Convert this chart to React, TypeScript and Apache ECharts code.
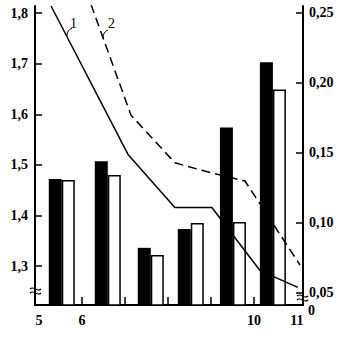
import React, { useEffect, useRef } from "react";
import * as echarts from "echarts";

// Bar pairs (left axis)
const barX = [5.53, 6.6, 7.6, 8.53, 9.51, 10.44];
const blackBars = [1.472, 1.507, 1.336, 1.373, 1.574, 1.703];
const whiteBars = [1.47, 1.48, 1.322, 1.385, 1.387, 1.649];

// Curves (right axis)
const line1X = [5.28, 7.07, 8.16, 9.02, 10.14, 11.02];
const line1Y = [0.255, 0.149, 0.111, 0.111, 0.066, 0.054];
const line2X = [6.21, 7.14, 8.16, 8.98, 9.79, 11.07];
const line2Y = [0.256, 0.177, 0.143, 0.136, 0.13, 0.07];

// Ticks / labels
const leftTicks = [1.3, 1.4, 1.5, 1.6, 1.7, 1.8];
const rightTicks = [0.05, 0.1, 0.15, 0.2, 0.25];
const xLabelValues = [5, 6, 10, 11];
const xTickValues = [6, 7, 8, 9, 10];

const FONT = "Liberation Serif";

export default function App() {
  const ref = useRef<HTMLDivElement>(null);
  useEffect(() => {
    if (!ref.current) return;
    const chart = echarts.init(ref.current, undefined, { renderer: "svg" });
    const axisText = { color: "#000", fontFamily: FONT, fontSize: 14, fontWeight: "bold" as const };
    chart.setOption({
      animation: false,
      backgroundColor: "#fff",
      grid: { left: 35, right: 53, top: 6, bottom: 46, containLabel: false },
      xAxis: {
        type: "value",
        min: 4.907,
        max: 11.14,
        splitLine: { show: false },
        axisLine: { show: true, onZero: false, lineStyle: { color: "#000", width: 2 } },
        axisTick: { show: true, inside: true, length: 8, customValues: xTickValues, lineStyle: { color: "#000", width: 1.5 } },
        axisLabel: { ...axisText, margin: 8, customValues: xLabelValues, formatter: (v: number) => String(v) },
      },
      yAxis: [
        {
          type: "value",
          position: "left",
          min: 1.223,
          max: 1.814,
          splitLine: { show: false },
          axisLine: { show: true, onZero: false, lineStyle: { color: "#000", width: 2 } },
          axisTick: { show: true, inside: true, length: 7, customValues: leftTicks, lineStyle: { color: "#000", width: 1.5 } },
          axisLabel: {
            ...axisText,
            margin: 7,
            customValues: leftTicks,
            formatter: (v: number) => v.toFixed(1).replace(".", ","),
          },
        },
        {
          type: "value",
          position: "right",
          min: 0.0414,
          max: 0.255,
          splitLine: { show: false },
          axisLine: { show: true, onZero: false, lineStyle: { color: "#000", width: 2 } },
          axisTick: { show: true, inside: true, length: 7, customValues: rightTicks, lineStyle: { color: "#000", width: 1.5 } },
          axisLabel: {
            ...axisText,
            margin: 6,
            customValues: rightTicks,
            formatter: (v: number) => v.toFixed(2).replace(".", ","),
          },
        },
      ],
      series: [
        {
          type: "bar",
          yAxisIndex: 0,
          barWidth: 13,
          barGap: "0%",
          data: barX.map((x, i) => [x, blackBars[i]]),
          itemStyle: { color: "#000" },
        },
        {
          type: "bar",
          yAxisIndex: 0,
          barWidth: 13,
          barGap: "0%",
          data: barX.map((x, i) => [x, whiteBars[i]]),
          itemStyle: { color: "#fff", borderColor: "#000", borderWidth: 1.5 },
        },
        {
          type: "line",
          yAxisIndex: 1,
          symbol: "none",
          data: line1X.map((x, i) => [x, line1Y[i]]),
          lineStyle: { color: "#000", width: 1.5 },
        },
        {
          type: "line",
          yAxisIndex: 1,
          symbol: "none",
          data: line2X.map((x, i) => [x, line2Y[i]]),
          lineStyle: { color: "#000", width: 1.5, type: [9, 5] },
        },
      ],
      graphic: [
        { type: "text", x: 70, y: 16, style: { text: "1", fill: "#000", font: `14px '${FONT}'` } },
        { type: "text", x: 108, y: 16, style: { text: "2", fill: "#000", font: `14px '${FONT}'` } },
        {
          type: "bezierCurve",
          shape: { x1: 72, y1: 28, x2: 67, y2: 36, cpx1: 67, cpy1: 30 },
          style: { stroke: "#000", lineWidth: 1, fill: "none" },
        },
        {
          type: "bezierCurve",
          shape: { x1: 108, y1: 30, x2: 103, y2: 38, cpx1: 103, cpy1: 32 },
          style: { stroke: "#000", lineWidth: 1, fill: "none" },
        },
        { type: "text", x: 308, y: 303, style: { text: "0", fill: "#000", font: `bold 14px '${FONT}'` } },
        // axis break marks
        {
          type: "bezierCurve",
          shape: { x1: 30, y1: 289, x2: 41, y2: 289, cpx1: 34, cpy1: 285, cpx2: 37, cpy2: 293 },
          style: { stroke: "#000", lineWidth: 1.2, fill: "none" },
        },
        {
          type: "bezierCurve",
          shape: { x1: 30, y1: 293, x2: 41, y2: 293, cpx1: 34, cpy1: 289, cpx2: 37, cpy2: 297 },
          style: { stroke: "#000", lineWidth: 1.2, fill: "none" },
        },
        {
          type: "bezierCurve",
          shape: { x1: 297, y1: 296, x2: 308, y2: 296, cpx1: 301, cpy1: 292, cpx2: 304, cpy2: 300 },
          style: { stroke: "#000", lineWidth: 1.2, fill: "none" },
        },
        {
          type: "bezierCurve",
          shape: { x1: 297, y1: 300, x2: 308, y2: 300, cpx1: 301, cpy1: 296, cpx2: 304, cpy2: 304 },
          style: { stroke: "#000", lineWidth: 1.2, fill: "none" },
        },
      ],
    });
    return () => chart.dispose();
  }, []);
  return (
    <div
      ref={ref}
      style={{ position: "absolute", left: 0, top: 0, width: 356, height: 351, background: "#fff" }}
    />
  );
}
